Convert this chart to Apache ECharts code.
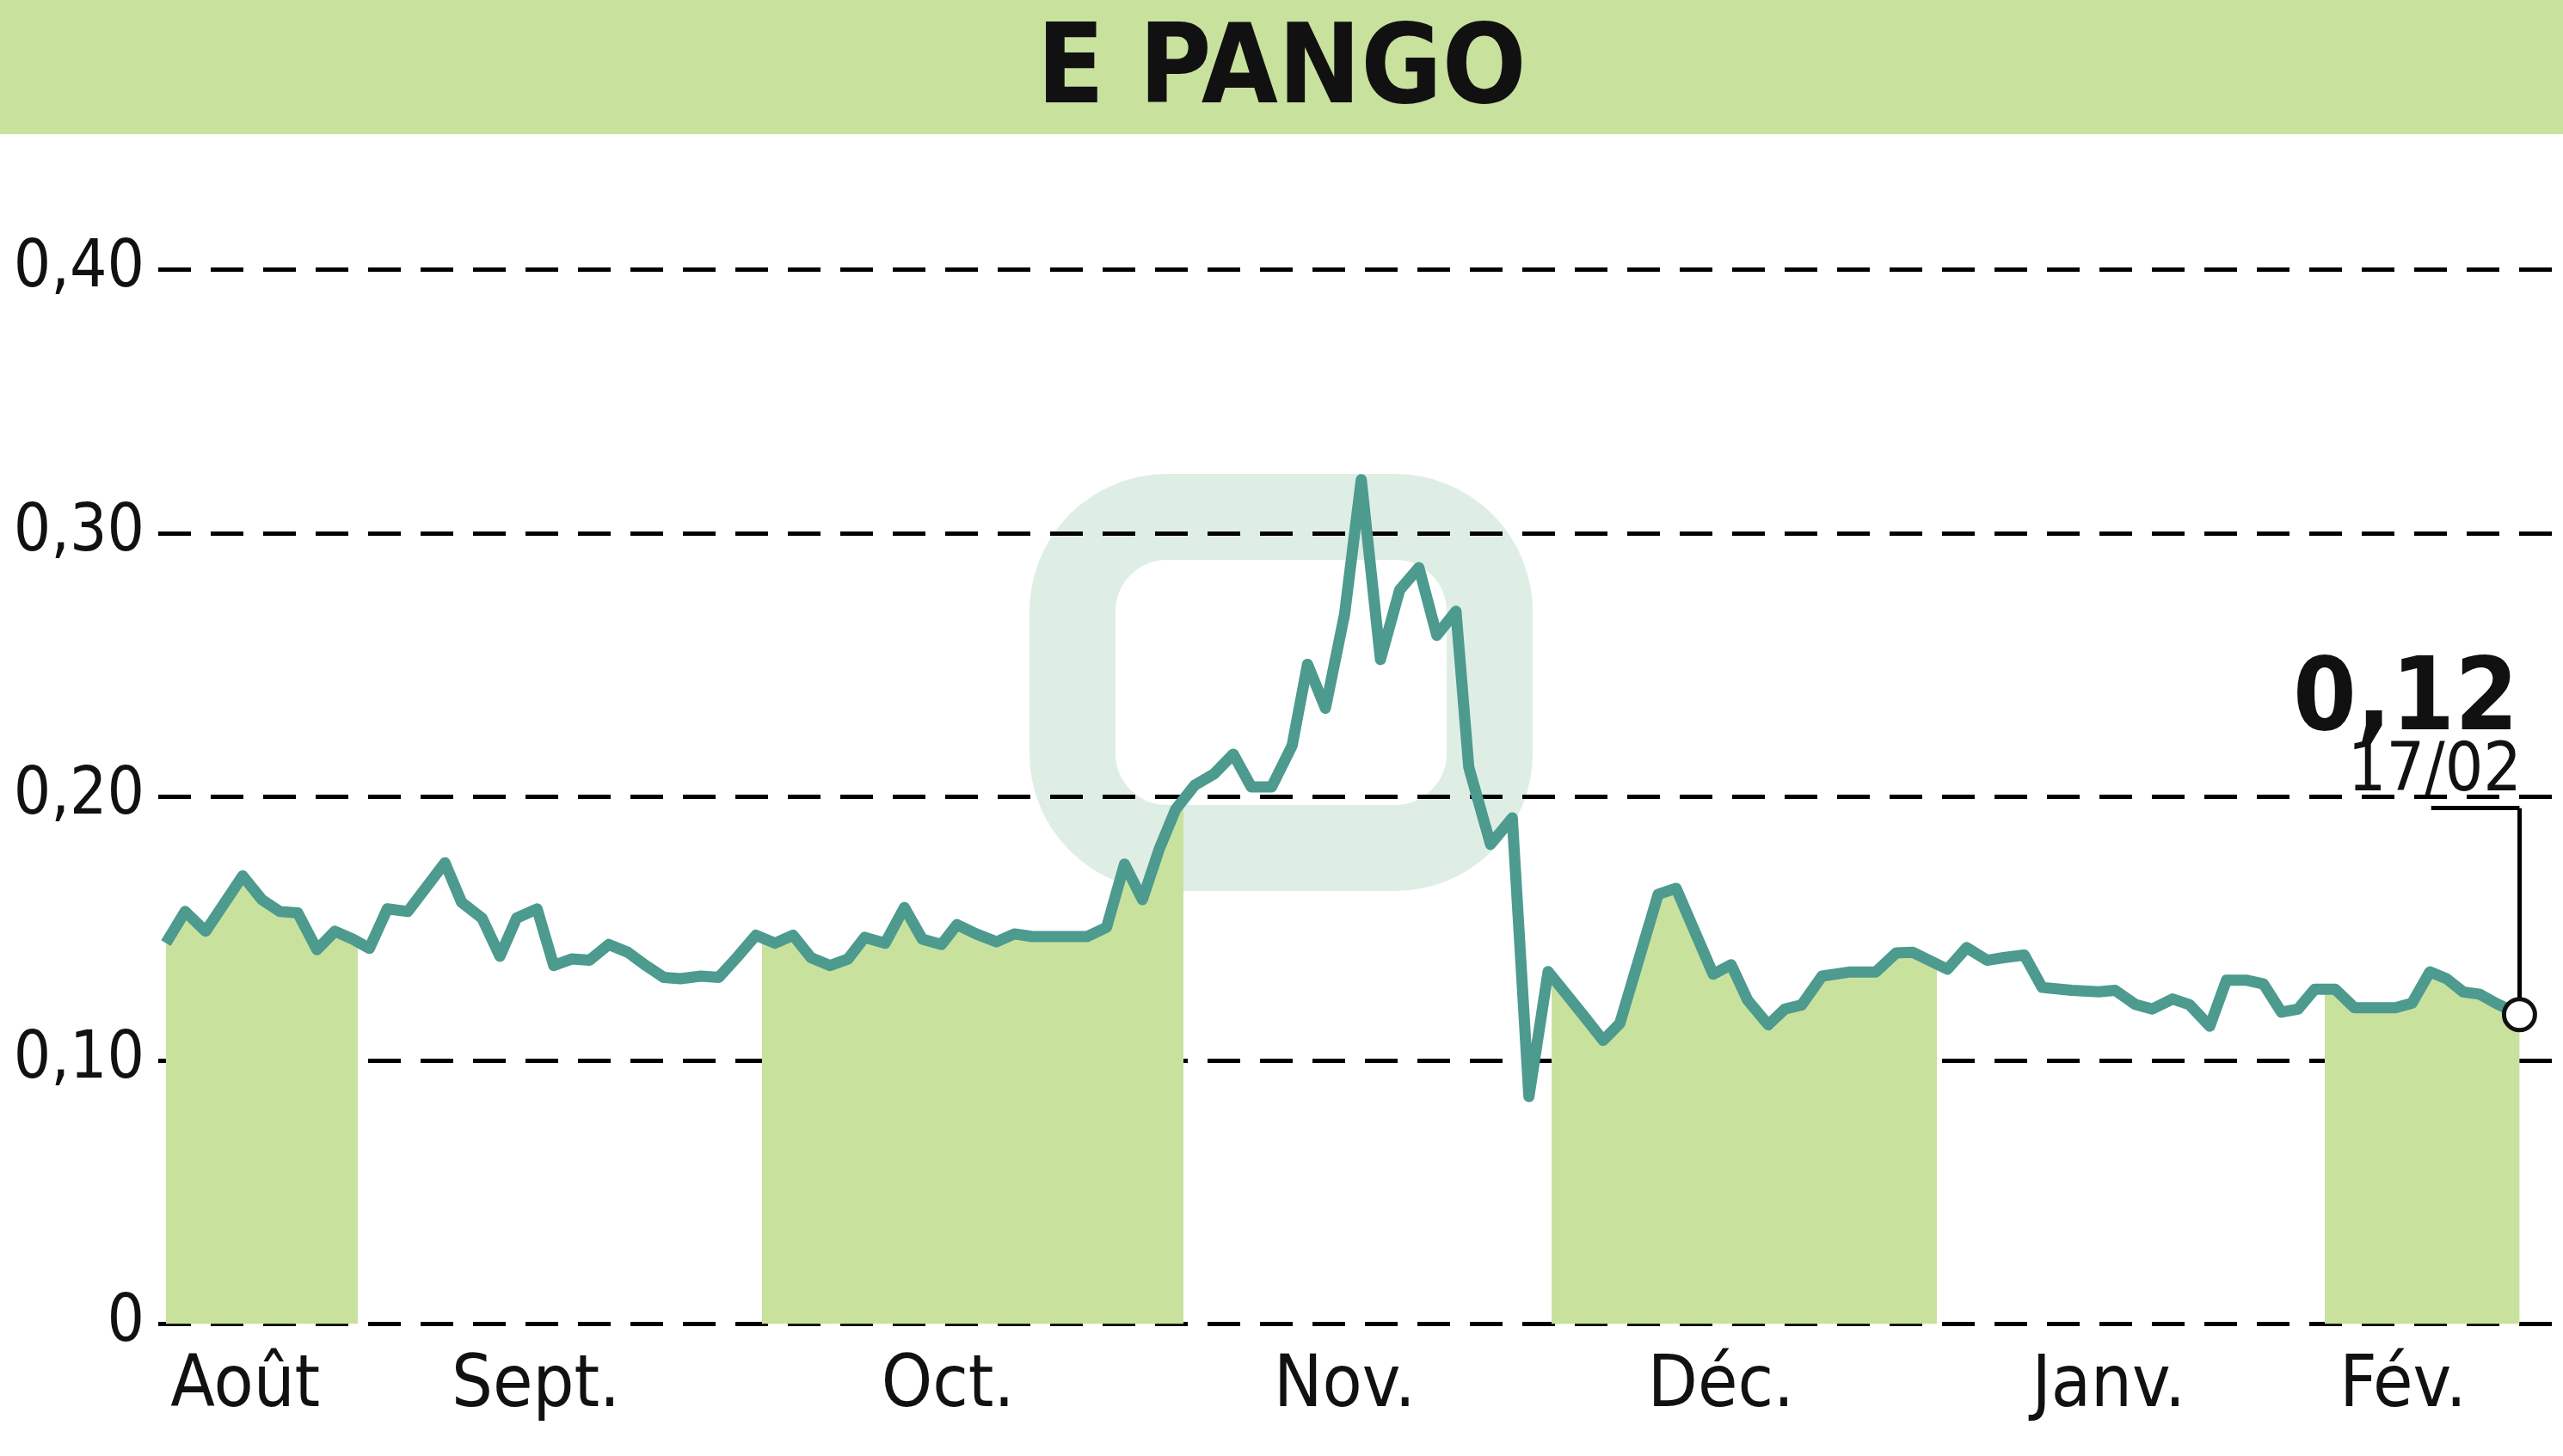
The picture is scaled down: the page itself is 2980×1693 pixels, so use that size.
<!DOCTYPE html>
<html>
<head>
<meta charset="utf-8">
<script src="https://cdn.jsdelivr.net/npm/echarts@6/dist/echarts.min.js"></script>
<style>
  html, body { margin: 0; padding: 0; background: #fff; }
  #chart { width: 2980px; height: 1693px; }
</style>
</head>
<body>
<div id="chart"></div>
<script>
// x = days since mid-August, y = price (EUR)
const days = [0.6, 2.1, 3.7, 6.6, 8.1, 9.5, 10.9, 12.4, 13.8, 15.2, 16.5, 17.9, 19.5, 22.4, 23.7,
  25.3, 26.7, 28.0, 29.6, 30.9, 32.3, 33.7, 35.2, 36.7, 38.1, 39.5, 40.8, 42.4, 43.8, 45.2, 46.7,
  48.2, 49.6, 51.0, 52.5, 53.9, 55.2, 56.8, 58.3, 59.7, 61.2, 62.4, 63.9, 65.5, 66.9, 68.3, 69.6,
  71.0, 72.6, 74.1, 75.5, 76.9, 78.2, 79.5, 81.0, 82.5, 84.0, 85.4, 87.0, 88.6, 89.8, 91.2, 92.7,
  94.0, 95.5, 97.0, 98.5, 99.9, 101.4, 102.4, 104.1, 105.8, 107.1, 108.6, 111.3, 112.9, 114.2,
  117.2, 118.6, 121.5, 122.9, 124.2, 125.8, 127.1, 128.4, 130.0, 132.1, 134.2, 135.8, 137.1,
  139.8, 141.3, 142.9, 144.2, 145.8, 147.2, 149.5, 151.6, 152.9, 154.5, 155.8, 157.4, 158.7,
  160.3, 161.6, 163.2, 164.5, 165.9, 167.2, 168.5, 170.1, 171.6, 173.2, 174.8, 176.1, 177.5,
  178.8, 180.1, 181.4, 182.7, 184.5];
const prices = [0.1445, 0.1565, 0.149, 0.170, 0.161, 0.1565, 0.156, 0.142, 0.149, 0.146, 0.1425,
  0.1575, 0.1565, 0.175, 0.160, 0.154, 0.1395, 0.154, 0.1575, 0.136, 0.1385, 0.138, 0.144, 0.141,
  0.136, 0.1315, 0.131, 0.132, 0.1315, 0.139, 0.1475, 0.1445, 0.1475, 0.139, 0.136, 0.1385,
  0.1467, 0.1445, 0.158, 0.146, 0.144, 0.1515, 0.148, 0.145, 0.148, 0.147, 0.147, 0.147, 0.147,
  0.1505, 0.1745, 0.161, 0.180, 0.1953, 0.2045, 0.2087, 0.2162, 0.2038, 0.2038, 0.2195, 0.2503,
  0.2336, 0.2694, 0.3203, 0.2521, 0.2785, 0.287, 0.2613, 0.2704, 0.2113, 0.182, 0.192, 0.0863,
  0.1337, 0.1174, 0.1076, 0.114, 0.163, 0.1653, 0.1327, 0.1363, 0.1228, 0.1135, 0.1195, 0.121,
  0.132, 0.1335, 0.1335, 0.1408, 0.141, 0.1346, 0.1428, 0.138, 0.139, 0.140, 0.1277, 0.1266,
  0.126, 0.1266, 0.1212, 0.1195, 0.1233, 0.1212, 0.113, 0.1304, 0.1304, 0.129, 0.1183, 0.1195,
  0.127, 0.127, 0.12, 0.12, 0.12, 0.1217, 0.1336, 0.131, 0.126, 0.1251, 0.1216, 0.1174];
const monthNames = ['Août', 'Sept.', 'Oct.', 'Nov.', 'Déc.', 'Janv.', 'Fév.'];
const monthCenters = [6.8, 29.5, 61.7, 92.7, 122.1, 152.4, 175.4];
const monthStarts = [0, 15.6, 47.2, 80.1, 108.9, 139.0, 169.3, 200];
const lastLabel = '0,12';
const lastDate = '17/02';

const FONT = "'DejaVu Sans Condensed', 'Liberation Sans Narrow', sans-serif";
const GREEN = '#c8e29e';
const LINE = '#4d9a8f';

const points = days.map((d, i) => [d, prices[i]]);
const last = points[points.length - 1];

// alternate months get the green fill under the curve
const pieces = [];
for (let i = 0; i < monthStarts.length - 1; i++) {
  pieces.push({ gte: monthStarts[i], lt: monthStarts[i + 1], color: i % 2 === 0 ? GREEN : 'rgba(255,255,255,0)' });
}

const chart = echarts.init(document.getElementById('chart'));
chart.setOption({
  animation: false,
  backgroundColor: '#fff',
  grid: { left: 184, right: 0, top: 313.6, bottom: 153.5, outerBoundsMode: 'none', containLabel: false },
  graphic: [
    { type: 'rect', left: 0, top: 0, shape: { width: 2980, height: 156 }, style: { fill: GREEN }, z: -1 },
    { type: 'text', left: 'center', top: 22, style: { text: 'E PANGO', font: 'bold 128px ' + FONT, fill: '#111' } },
    { type: 'rect', shape: { x: 1247, y: 601, width: 485, height: 385, r: 110 },
      style: { fill: 'none', stroke: '#b5d9c3', lineWidth: 100, opacity: 0.45 }, z: -1 },
    { type: 'text', x: 2928, y: 758, style: { text: lastLabel, font: 'bold 118px ' + FONT, fill: '#111', align: 'right' } },
    { type: 'text', x: 2932, y: 860, style: { text: lastDate, font: '78px ' + FONT, fill: '#111', align: 'right' } }
  ],
  visualMap: { show: false, type: 'piecewise', dimension: 0, seriesIndex: 0, pieces: pieces },
  xAxis: {
    type: 'value', min: 0, max: 187.9,
    axisLine: { show: false }, axisTick: { show: false }, splitLine: { show: false },
    axisLabel: {
      customValues: monthCenters, margin: 32,
      fontSize: 84, fontFamily: FONT, color: '#111',
      formatter: v => monthNames[monthCenters.indexOf(v)] || ''
    }
  },
  yAxis: {
    type: 'value', min: 0, max: 0.4, interval: 0.1,
    axisLine: { show: false }, axisTick: { show: false },
    axisLabel: {
      margin: 16, fontSize: 76, fontFamily: FONT, color: '#111',
      formatter: v => v === 0 ? '0' : v.toFixed(2).replace('.', ',')
    },
    splitLine: { lineStyle: { color: '#000', width: 5, type: [38, 23] } }
  },
  series: [
    {
      type: 'line', data: points, showSymbol: false, silent: true,
      lineStyle: { width: 0, opacity: 0 }, areaStyle: { opacity: 1 }, z: 1
    },
    {
      type: 'line', data: points, showSymbol: false, silent: true,
      lineStyle: { color: LINE, width: 13, join: 'round' }, z: 3,
      markLine: {
        silent: true, symbol: 'none', label: { show: false },
        lineStyle: { color: '#000', width: 5, type: 'solid' },
        data: [
          [{ coord: [last[0], last[1] + 0.006] }, { coord: [last[0], 0.1957] }],
          [{ coord: [last[0], 0.1957] }, { coord: [177.6, 0.1957] }]
        ]
      },
      markPoint: {
        silent: true, symbol: 'circle', symbolSize: 36, label: { show: false },
        itemStyle: { color: '#fff', borderColor: '#111', borderWidth: 5 },
        data: [{ coord: last }]
      }
    }
  ]
});
</script>
</body>
</html>
